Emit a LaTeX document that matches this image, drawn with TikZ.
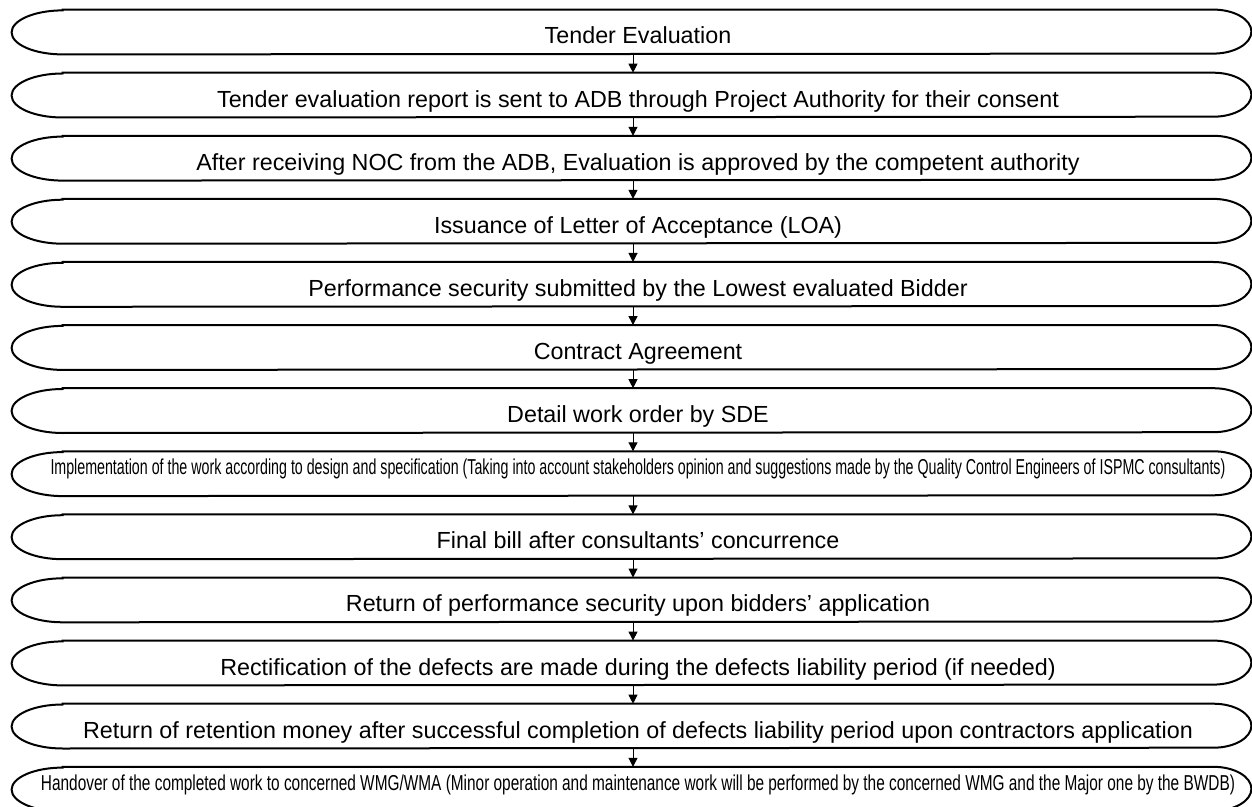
\documentclass[tikz,border=0pt]{standalone}
\usepackage{fontspec}
\setmainfont{Liberation Sans}
\newfontfamily\implfont[FakeStretch=0.659]{Liberation Sans}
\newfontfamily\handfont[FakeStretch=0.713]{Liberation Sans}
\newcommand{\squeezed}[2]{\makebox[0pt]{\fontsize{10.8}{12}#1#2}}
\usetikzlibrary{arrows.meta}

\begin{document}
\begin{tikzpicture}[x=0.5pt,y=-0.5pt]
  \definecolor{kInk}{rgb}{0,0,0}
  \tikzset{
    stage/.style={minimum width=575pt,minimum height=22pt,inner sep=0pt,
                  text depth=0pt,font=\fontsize{11.65}{13}\selectfont},
    flow/.style={color=kInk,line width=0.5pt,-{Triangle[width=4.5pt,length=4.5pt]}}
  }
  \useasboundingbox (0,0) rectangle (1252,807);

  \foreach \n/\th/\txt in {
      1/12/{Tender Evaluation},
      2/12/{Tender evaluation report is sent to ADB through Project Authority for their consent},
      3/12/{After receiving NOC from the ADB, Evaluation is approved by the competent authority},
      4/12/{Issuance of Letter of Acceptance (LOA)},
      5/12/{Performance security submitted by the Lowest evaluated Bidder},
      6/12/{Contract Agreement},
      7/12/{Detail work order by SDE},
      8/1/{\squeezed{\implfont}{Implementation of the work according to design and specification (Taking into account stakeholders opinion and suggestions made by the Quality Control Engineers of ISPMC consultants)}},
      9/12/{Final bill after consultants’ concurrence},
      10/12/{Return of performance security upon bidders’ application},
      11/12/{Rectification of the defects are made during the defects liability period (if needed)},
      12/12/{Return of retention money after successful completion of defects liability period upon contractors application},
      13/1/{\squeezed{\handfont}{Handover of the completed work to concerned WMG/WMA (Minor operation and maintenance work will be performed by the concerned WMG and the Major one by the BWDB)}}
    }
  {
    \node[stage,text height=\th pt] (s\n) at (638,{32+63.1*(\n-1)}) {\txt};
    \draw[color=kInk,line width=1pt] (s\n.north west) -- (s\n.north east)
      arc[start angle=90,end angle=-90,x radius=19pt,y radius=11pt]
      -- (s\n.south west)
      arc[start angle=270,end angle=90,x radius=25.5pt,y radius=11pt] -- cycle;
  }

  \foreach \a/\b in {1/2,2/3,3/4,4/5,5/6,6/7,7/8,8/9,9/10,10/11,11/12,12/13}
    \draw[flow] ([xshift=-2.5pt]s\a.south) -- ([xshift=-2.5pt]s\b.north);
\end{tikzpicture}
\end{document}
